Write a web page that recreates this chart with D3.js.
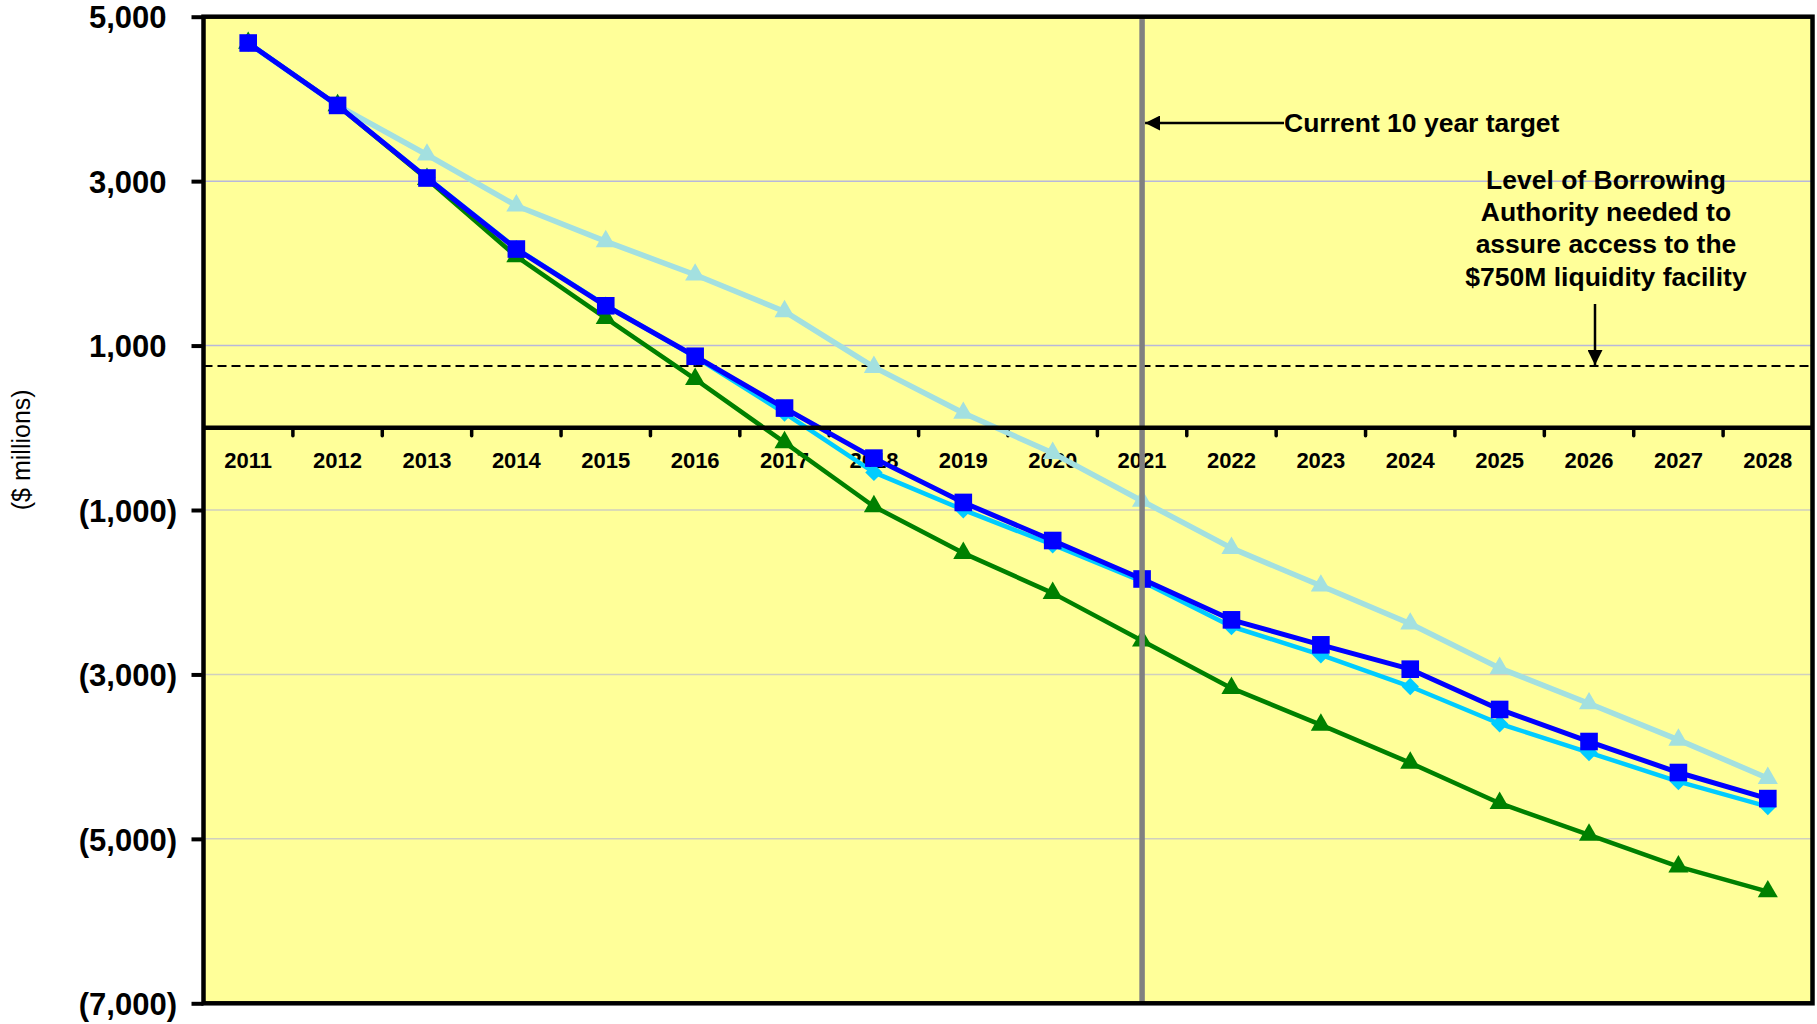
<!DOCTYPE html>
<html>
<head>
<meta charset="utf-8">
<script src="https://cdn.jsdelivr.net/npm/d3@7"></script>
<style>
  html, body { margin: 0; padding: 0; background: #ffffff; }
  svg { display: block; }
  text { font-family: "Liberation Sans", Arial, sans-serif; }
</style>
</head>
<body>
<svg id="chart" width="1817" height="1024"></svg>
<script>
// Fiscal years on the horizontal axis
const years = ["2011", "2012", "2013", "2014", "2015", "2016", "2017", "2018", "2019",
               "2020", "2021", "2022", "2023", "2024", "2025", "2026", "2027", "2028"];

// Projected borrowing capacity ($ millions) under four scenarios
const paleSeries  = [4680, 3921, 3321, 2701, 2267, 1861, 1415, 738, 179, -308, -890, -1464, -1922, -2384, -2923, -3354, -3796, -4262];
const greenSeries = [4680, 3921, 3025, 2084, 1334, 592, -178, -957, -1524, -2011, -2591, -3167, -3613, -4076, -4566, -4951, -5337, -5641];
const cyanSeries  = [4680, 3921, 3045, 2180, 1490, 862, 179, -543, -998, -1423, -1869, -2417, -2762, -3147, -3600, -3950, -4303, -4607];
const blueSeries  = [4680, 3921, 3038, 2174, 1484, 870, 240, -369, -908, -1371, -1839, -2336, -2640, -2936, -3426, -3816, -4193, -4510];

// Axis ticks and reference values
const yTicks = [5000, 3000, 1000, -1000, -3000, -5000, -7000];
const gridTicks = [3000, 1000, -1000, -3000, -5000];
const liquidityLevel = 750;
const targetYear = "2021";

const svg = d3.select("#chart");
const margin = { left: 203.5, right: 4.5, top: 16.7, bottom: 20.7 };
const W = 1817, H = 1024;

const x = d3.scaleBand().domain(years).range([margin.left, W - margin.right]);
const y = d3.scaleLinear().domain([-7000, 5000]).range([H - margin.bottom, margin.top]);
const cx = d => x(d) + x.bandwidth() / 2;

// plot background
svg.append("rect")
  .attr("x", margin.left).attr("y", margin.top)
  .attr("width", W - margin.left - margin.right)
  .attr("height", H - margin.top - margin.bottom)
  .attr("fill", "#ffff99");

// gridlines: bluish above zero, greyish below
svg.append("g").selectAll("line").data(gridTicks).join("line")
  .attr("x1", margin.left).attr("x2", W - margin.right)
  .attr("y1", d => y(d)).attr("y2", d => y(d))
  .attr("stroke", d => d > 0 ? "#b8b8dc" : "#cfcfbf")
  .attr("stroke-width", 1.5);

// $750M liquidity threshold
svg.append("line")
  .attr("x1", margin.left).attr("x2", W - margin.right)
  .attr("y1", y(liquidityLevel)).attr("y2", y(liquidityLevel))
  .attr("stroke", "#000").attr("stroke-width", 2)
  .attr("stroke-dasharray", "9,5");

// year labels and boundary ticks along the zero line
const xg = svg.append("g");
xg.selectAll("line.tick").data(years.slice(1)).join("line")
  .attr("class", "tick")
  .attr("x1", d => x(d)).attr("x2", d => x(d))
  .attr("y1", y(0)).attr("y2", y(0) + 8)
  .attr("stroke", "#000").attr("stroke-width", 3.5)
  .attr("stroke-linecap", "round");
xg.selectAll("text").data(years).join("text")
  .attr("x", d => cx(d)).attr("y", y(0) + 40)
  .attr("text-anchor", "middle")
  .attr("font-size", 22).attr("font-weight", "bold")
  .attr("fill", "#000")
  .text(d => d);

// series lines and markers
const line = d3.line().x((d, i) => cx(years[i])).y(d => y(d));
const series = [
  { values: paleSeries,  color: "#a3e0e0", width: 5.5, marker: "triangle" },
  { values: greenSeries, color: "#008000", width: 4.5, marker: "triangle" },
  { values: cyanSeries,  color: "#00ccff", width: 4.5, marker: "diamond" },
  { values: blueSeries,  color: "#0000ff", width: 5,   marker: "square" }
];
series.forEach(s => {
  const g = svg.append("g");
  g.append("path").datum(s.values)
    .attr("d", line).attr("fill", "none")
    .attr("stroke", s.color).attr("stroke-width", s.width)
    .attr("stroke-linejoin", "round");
  let sym, rot = 0;
  if (s.marker === "triangle") sym = d3.symbol(d3.symbolTriangle, 175);
  else if (s.marker === "diamond") { sym = d3.symbol(d3.symbolSquare, 150); rot = 45; }
  else sym = d3.symbol(d3.symbolSquare, 310);
  g.selectAll("path.m").data(s.values).join("path")
    .attr("class", "m")
    .attr("d", sym)
    .attr("transform", (d, i) => `translate(${cx(years[i])},${y(d)}) rotate(${rot})`)
    .attr("fill", s.color);
});

// current ten-year target marker
svg.append("line")
  .attr("x1", cx(targetYear)).attr("x2", cx(targetYear))
  .attr("y1", margin.top).attr("y2", H - margin.bottom)
  .attr("stroke", "#808080").attr("stroke-width", 5.5);

// frame and zero line
svg.append("rect")
  .attr("x", margin.left).attr("y", margin.top)
  .attr("width", W - margin.left - margin.right)
  .attr("height", H - margin.top - margin.bottom)
  .attr("fill", "none").attr("stroke", "#000").attr("stroke-width", 4.5);
svg.append("line")
  .attr("x1", margin.left).attr("x2", W - margin.right)
  .attr("y1", y(0)).attr("y2", y(0))
  .attr("stroke", "#000").attr("stroke-width", 4.5);

// value axis
const yAxis = d3.axisLeft(y).tickValues(yTicks).tickSize(12).tickPadding(14)
  .tickFormat(d => d < 0 ? `(${d3.format(",")(-d)})` : d3.format(",")(d));
const yg = svg.append("g").attr("transform", `translate(${margin.left},0)`).call(yAxis);
yg.select(".domain").remove();
yg.selectAll(".tick line").attr("stroke", "#000").attr("stroke-width", 4);
yg.selectAll(".tick text")
  .attr("font-size", 31).attr("font-weight", "bold").attr("fill", "#000")
  .attr("font-family", "'Liberation Sans', Arial, sans-serif")
  .attr("dy", "0.36em")
  .attr("x", d => d < 0 ? -26.5 : -37);

svg.append("text")
  .attr("transform", `translate(30,${y(0) + 22}) rotate(-90)`)
  .attr("text-anchor", "middle")
  .attr("font-size", 25).attr("fill", "#000")
  .text("($ millions)");

// annotations
svg.append("defs").html(`
  <marker id="ah" viewBox="0 0 10 10" refX="10" refY="5" markerWidth="6" markerHeight="6" markerUnits="strokeWidth" orient="auto">
    <path d="M0,0 L10,5 L0,10 z" fill="#000"/>
  </marker>`);

const tx = cx(targetYear);
svg.append("line")
  .attr("x1", 1284).attr("y1", 123).attr("x2", tx + 3).attr("y2", 123)
  .attr("stroke", "#000").attr("stroke-width", 2.5)
  .attr("marker-end", "url(#ah)");
svg.append("text")
  .attr("x", 1284).attr("y", 132)
  .attr("font-size", 26.5).attr("font-weight", "bold").attr("fill", "#000")
  .text("Current 10 year target");

const noteLines = ["Level of Borrowing", "Authority needed to", "assure access to the", "$750M liquidity facility"];
svg.append("text")
  .attr("font-size", 26.5).attr("font-weight", "bold").attr("fill", "#000")
  .attr("text-anchor", "middle")
  .selectAll("tspan").data(noteLines).join("tspan")
  .attr("x", 1606).attr("y", (d, i) => 189 + i * 32.2)
  .text(d => d);

svg.append("line")
  .attr("x1", 1595).attr("y1", 304).attr("x2", 1595).attr("y2", y(liquidityLevel) - 1)
  .attr("stroke", "#000").attr("stroke-width", 2.5)
  .attr("marker-end", "url(#ah)");
</script>
</body>
</html>
